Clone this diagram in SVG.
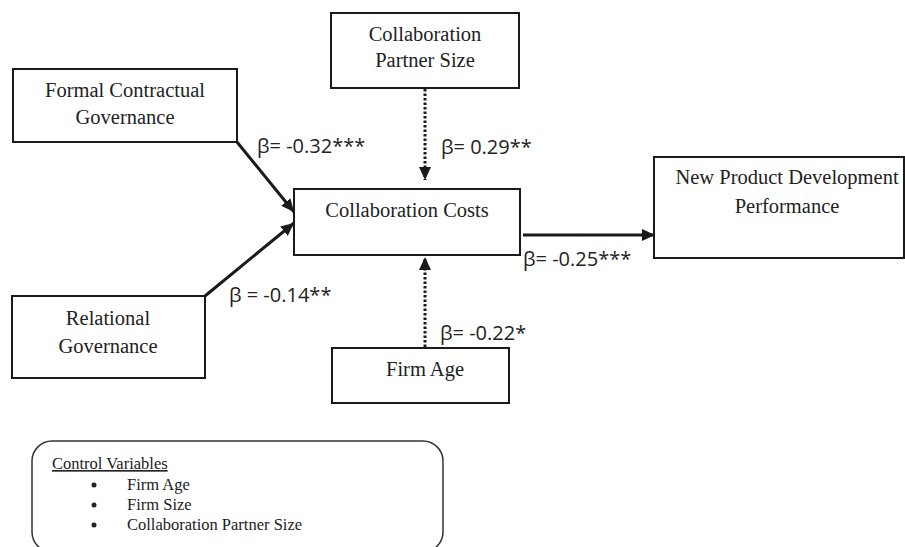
<svg xmlns="http://www.w3.org/2000/svg" width="905" height="547" viewBox="0 0 905 547">
<style>
.box{fill:#fff;stroke:#1a1a1a;stroke-width:2}
.t{font-family:"Liberation Serif","Times New Roman",serif;font-size:20.5px;fill:#222;text-anchor:middle}
.ct{font-family:"Liberation Serif","Times New Roman",serif;font-size:16.5px;fill:#222}
.b{font-family:"Open Sans","Liberation Sans",sans-serif;font-size:20px;fill:#222}
.solid{stroke:#1a1a1a;stroke-width:3;fill:none}
.dot{stroke:#1a1a1a;stroke-width:3;fill:none;stroke-dasharray:2.5 2}
</style>
<defs>
<marker id="ah" markerUnits="userSpaceOnUse" markerWidth="14" markerHeight="12" refX="13" refY="6" orient="auto">
<path d="M0,0 L13,6 L0,12 z" fill="#1a1a1a"/>
</marker>
</defs>
<g id="connectors">
<line class="solid" x1="237" y1="142" x2="294" y2="212" marker-end="url(#ah)"/>
<line class="solid" x1="205" y1="296" x2="294" y2="223" marker-end="url(#ah)"/>
<line class="dot" x1="425" y1="89" x2="425" y2="180" marker-end="url(#ah)"/>
<line class="dot" x1="425" y1="347" x2="425" y2="257" marker-end="url(#ah)"/>
<line class="solid" x1="523" y1="235" x2="655" y2="235" marker-end="url(#ah)"/>
<text class="b" x="257" y="153">β= -0.32***</text>
<text class="b" x="229" y="302">β = -0.14**</text>
<text class="b" x="441" y="154">β= 0.29**</text>
<text class="b" x="440" y="340">β= -0.22*</text>
<text class="b" x="523" y="266">β= -0.25***</text>
</g>
<g id="formal">
<rect class="box" x="13" y="69" width="224" height="73"/>
<text class="t" x="125" y="97">Formal Contractual</text>
<text class="t" x="125" y="124">Governance</text>
</g>
<g id="relational">
<rect class="box" x="12" y="296" width="193" height="82"/>
<text class="t" x="108" y="325">Relational</text>
<text class="t" x="108" y="353">Governance</text>
</g>
<g id="partner">
<rect class="box" x="331" y="13" width="188" height="75"/>
<text class="t" x="425" y="41">Collaboration</text>
<text class="t" x="425" y="67">Partner Size</text>
</g>
<g id="costs">
<rect class="box" x="294" y="189" width="226" height="66"/>
<text class="t" x="407" y="217">Collaboration Costs</text>
</g>
<g id="npd">
<rect class="box" x="654" y="157" width="250" height="101"/>
<text class="t" x="787" y="184">New Product Development</text>
<text class="t" x="787" y="213">Performance</text>
</g>
<g id="firmage">
<rect class="box" x="332" y="348" width="177" height="55"/>
<text class="t" x="425" y="376">Firm Age</text>
</g>
<g id="controls">
<rect x="32" y="441" width="411" height="111" rx="20" ry="20" fill="#fff" stroke="#333" stroke-width="1.5"/>
<text class="ct" x="52" y="469" text-decoration="underline">Control Variables</text>
<circle cx="94" cy="485" r="2.5" fill="#222"/>
<circle cx="94" cy="505" r="2.5" fill="#222"/>
<circle cx="94" cy="525" r="2.5" fill="#222"/>
<text class="ct" x="127" y="490">Firm Age</text>
<text class="ct" x="127" y="510">Firm Size</text>
<text class="ct" x="127" y="530">Collaboration Partner Size</text>
</g>
</svg>
